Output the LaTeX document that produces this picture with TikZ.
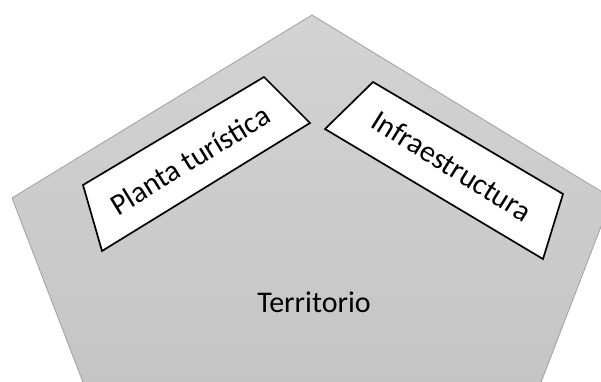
\documentclass[tikz,border=0pt]{standalone}
\usepackage{fontspec}
\setmainfont{Carlito}
\definecolor{terrtop}{RGB}{211,211,211}
\definecolor{terrbottom}{RGB}{193,193,193}
\definecolor{terredge}{RGB}{160,160,160}
\tikzset{
    territory/.style={draw=terredge, line width=0.8pt, top color=terrtop, bottom color=terrbottom},
    card/.style={draw=black, line width=1.7pt, fill=white, line join=miter},
    cardtext/.style={font=\fontsize{30}{35}\selectfont, inner sep=0pt}
}
\begin{document}
\begin{tikzpicture}[x=1pt, y=-1pt]
    \useasboundingbox (0,0) rectangle (601,381);
    \clip (0,0) rectangle (601,381);

    % territorio
    \coordinate (top) at (312,15);
    \coordinate (right) at (612,198);
    \coordinate (botright) at (498,494);
    \coordinate (botleft) at (126,494);
    \coordinate (left) at (12,198);
    \path[territory] (top) -- (right) -- (botright) -- (botleft) -- (left) -- cycle;
    \node[cardtext, anchor=base] (terr) at (314,312) {Territorio};

    % planta turistica
    \coordinate (pa) at (83,185);
    \coordinate (pb) at (102,251);
    \coordinate (pc) at (310,123);
    \coordinate (pd) at (264,77);
    \path[card] (pa) -- (pb) -- (pc) -- (pd) -- cycle;
    \node[cardtext, rotate=31.5] (planta) at (190,160) {Planta turística};

    % infraestructura
    \coordinate (ia) at (325,129);
    \coordinate (ib) at (373,82);
    \coordinate (ic) at (563,194);
    \coordinate (id) at (543,259);
    \path[card] (ia) -- (ib) -- (ic) -- (id) -- cycle;
    \node[cardtext, rotate=-32] (infra) at (452,166) {Infraestructura};
\end{tikzpicture}
\end{document}
